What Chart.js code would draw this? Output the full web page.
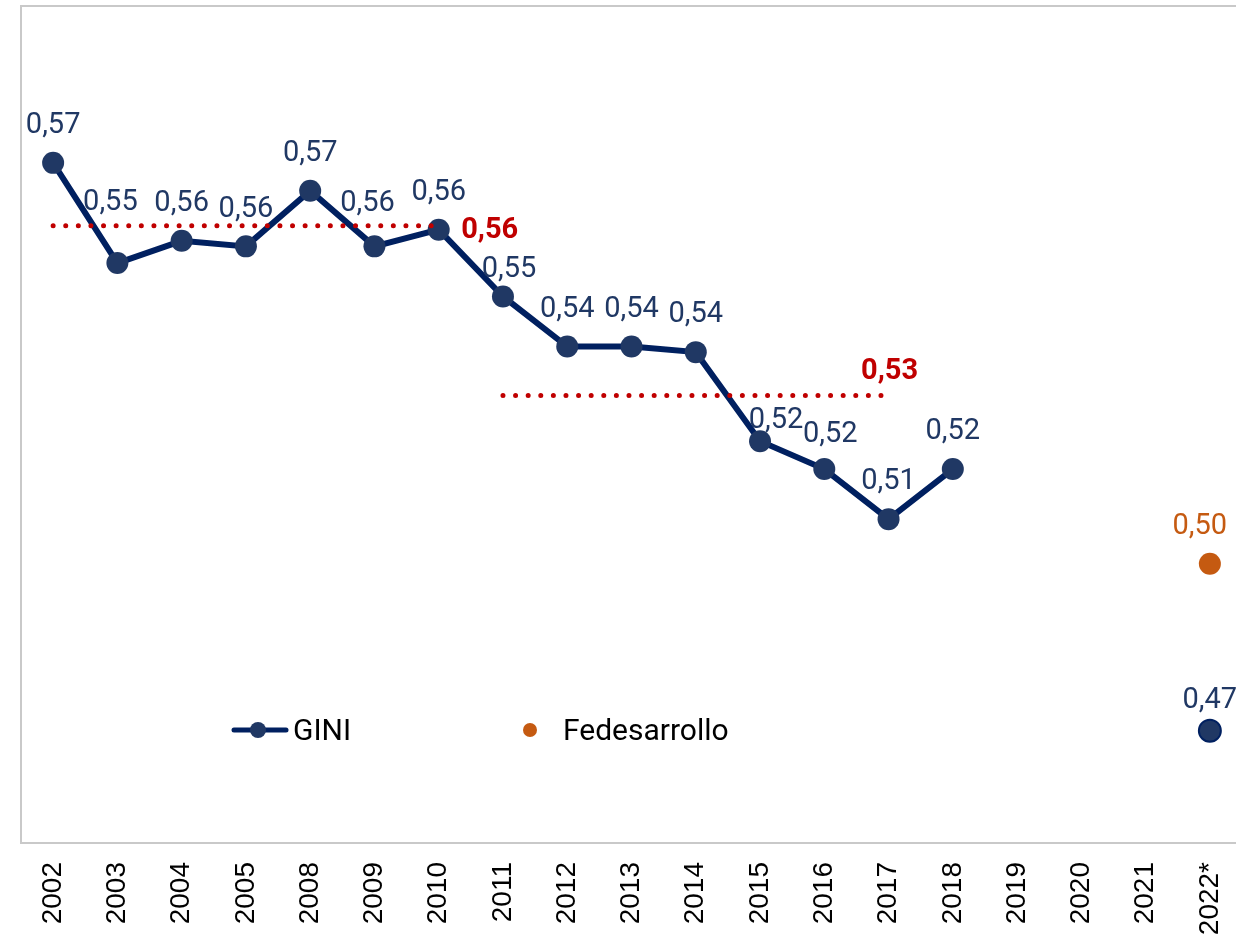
<!DOCTYPE html>
<html>
<head>
<meta charset="utf-8">
<script src="https://cdn.jsdelivr.net/npm/chart.js@4.4.1/dist/chart.umd.min.js"></script>
<style>
html,body{margin:0;padding:0;background:#fff;overflow:hidden;width:1236px;height:942px}
canvas{display:block}
</style>
</head>
<body>
<canvas id="c" width="1244" height="942"></canvas>
<script>
// ---------- data ----------
const categories = ['2002','2003','2004','2005','2008','2009','2010','2011','2012','2013','2014','2015','2016','2017','2018','2019','2020','2021','2022*'];
const giniValues = [0.572,0.554,0.558,0.557,0.567,0.557,0.560,0.548,0.539,0.539,0.538,0.522,0.517,0.508,0.517,null,null,null,0.470];
const fedesarrolloValues = [null,null,null,null,null,null,null,null,null,null,null,null,null,null,null,null,null,null,0.500];
const averageFirst = [0.5607,0.5607,0.5607,0.5607,0.5607,0.5607,0.5607,null,null,null,null,null,null,null,null,null,null,null,null];
const averageSecond = [null,null,null,null,null,null,null,0.5302,0.5302,0.5302,0.5302,0.5302,0.5302,0.5302,null,null,null,null,null];
const seriesNames = ['GINI','Fedesarrollo'];

// ---------- styles ----------
const NAVY_LINE = '#002060';
const NAVY_PT = '#203864';
const ORANGE = '#C55A11';
const RED = '#C00000';
const fmt = v => v.toFixed(2).replace('.', ',');

// label nudges (dx, dy) relative to point, by category index
const giniNudge = {1:[-7,-60],5:[-7,-43],7:[6,-27],11:[16,-20],12:[6,-34],18:[0,-30]};
const defaultNudge = [0,-37];

const labelsPlugin = {
  id: 'valueLabels',
  afterDatasetsDraw(chart) {
    const ctx = chart.ctx;
    ctx.save();
    ctx.textAlign = 'center';
    ctx.textBaseline = 'middle';
    const gMeta = chart.getDatasetMeta(2);
    ctx.font = '29px Roboto';
    ctx.fillStyle = NAVY_PT;
    giniValues.forEach((v, i) => {
      if (v == null) return;
      const p = gMeta.data[i];
      const n = giniNudge[i] || defaultNudge;
      ctx.fillText(fmt(v), p.x + n[0], p.y + n[1]);
    });
    const fMeta = chart.getDatasetMeta(3);
    ctx.fillStyle = ORANGE;
    fedesarrolloValues.forEach((v, i) => {
      if (v == null) return;
      const p = fMeta.data[i];
      ctx.fillText(fmt(v), p.x - 10, p.y - 37);
    });
    ctx.font = 'bold 29px Roboto';
    ctx.fillStyle = RED;
    const a1 = chart.getDatasetMeta(0);
    const i1 = averageFirst.map((v,i)=>v!=null?i:-1).filter(i=>i>=0).pop();
    ctx.fillText(fmt(averageFirst[i1]), a1.data[i1].x + 51, a1.data[i1].y + 5);
    const a2 = chart.getDatasetMeta(1);
    const i2 = averageSecond.map((v,i)=>v!=null?i:-1).filter(i=>i>=0).pop();
    ctx.fillText(fmt(averageSecond[i2]), a2.data[i2].x + 1, a2.data[i2].y - 24);
    ctx.restore();
  }
};

const framePlugin = {
  id: 'frame',
  beforeDraw(chart) {
    const {ctx, chartArea} = chart;
    ctx.save();
    ctx.strokeStyle = '#C9C9C9';
    ctx.lineWidth = 2;
    ctx.strokeRect(chartArea.left, chartArea.top - 1, chartArea.right - chartArea.left + 20, chartArea.bottom - chartArea.top + 2);
    ctx.restore();
  }
};

const legendPlugin = {
  id: 'innerLegend',
  afterDraw(chart) {
    const {ctx, chartArea} = chart;
    const L = chartArea.left;
    const y = 730;
    ctx.save();
    ctx.strokeStyle = NAVY_LINE;
    ctx.lineWidth = 5;
    ctx.lineCap = 'round';
    ctx.beginPath(); ctx.moveTo(L + 213, y); ctx.lineTo(L + 265, y); ctx.stroke();
    ctx.fillStyle = NAVY_PT;
    ctx.beginPath(); ctx.arc(L + 237, y, 8, 0, Math.PI * 2); ctx.fill();
    ctx.fillStyle = '#000';
    ctx.font = '30px Roboto';
    ctx.textAlign = 'left';
    ctx.textBaseline = 'middle';
    ctx.fillText(seriesNames[0], L + 272, y + 2);
    ctx.fillStyle = ORANGE;
    ctx.beginPath(); ctx.arc(L + 509, y, 7, 0, Math.PI * 2); ctx.fill();
    ctx.fillStyle = '#000';
    ctx.fillText(seriesNames[1], L + 542, y + 2);
    ctx.restore();
  }
};

new Chart(document.getElementById('c'), {
  type: 'line',
  data: {
    labels: categories,
    datasets: [
      { label: 'avg1', data: averageFirst, borderColor: RED, borderWidth: 5, borderDash: [0, 12.6], borderCapStyle: 'round', pointRadius: 0, fill: false },
      { label: 'avg2', data: averageSecond, borderColor: RED, borderWidth: 5, borderDash: [0, 12.6], borderCapStyle: 'round', pointRadius: 0, fill: false },
      { label: seriesNames[0], data: giniValues, borderColor: NAVY_LINE, borderWidth: 6, spanGaps: false,
        pointRadius: 11, pointBackgroundColor: NAVY_PT,
        pointBorderColor: ctx => ctx.dataIndex === 18 ? NAVY_LINE : NAVY_PT,
        pointBorderWidth: ctx => ctx.dataIndex === 18 ? 2 : 0, fill: false },
      { label: seriesNames[1], data: fedesarrolloValues, showLine: false, pointRadius: 11, pointBackgroundColor: ORANGE, pointBorderColor: ORANGE, pointBorderWidth: 0 }
    ]
  },
  options: {
    responsive: false,
    animation: false,
    layout: { autoPadding: false, padding: { left: 21, right: 2, top: 7, bottom: 0 } },
    plugins: { legend: { display: false }, tooltip: { enabled: false } },
    scales: {
      x: {
        offset: true,
        grid: { display: false, drawTicks: false },
        border: { display: false },
        ticks: { color: '#000', font: { family: 'Liberation Sans', size: 28 }, minRotation: 90, maxRotation: 90, padding: 20, autoSkip: false },
        afterFit(scale) { scale.height = 100; scale.paddingLeft = 0; scale.paddingRight = 0; }
      },
      y: { display: false, min: 0.45, max: 0.60 }
    }
  },
  plugins: [framePlugin, labelsPlugin, legendPlugin]
});
</script>
</body>
</html>
